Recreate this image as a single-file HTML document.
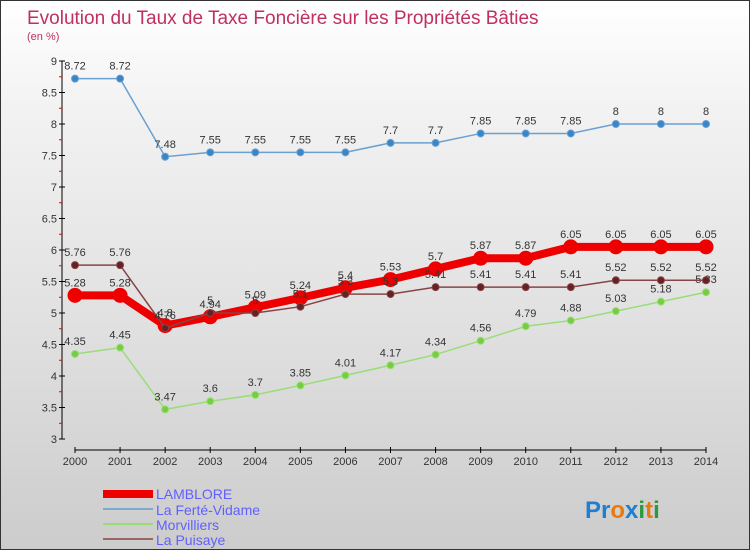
<!DOCTYPE html>
<html><head><meta charset="utf-8"><style>
body{margin:0}
#c{position:relative;width:748px;height:548px;border:1px solid #333;background:linear-gradient(#ffffff,#f2f2f2 20%,#e0e0e0 60%,#cccccc);overflow:hidden;font-family:"Liberation Sans",sans-serif}
</style></head><body>
<div id="c">
<svg id="s" width="748" height="548">
<text x="26" y="23" font-size="19" fill="#c0305f">Evolution du Taux de Taxe Foncière sur les Propriétés Bâties</text>
<text x="26" y="39" font-size="11" fill="#c0305f">(en %)</text>
<g id="axes"></g><g id="series"></g>
<g>
<rect x="102" y="489" width="50" height="8" fill="#e00"/>
<text x="155" y="498" font-size="14" fill="#6060ff">LAMBLORE</text>
<rect x="102" y="507" width="50" height="2" fill="#7aaad0"/>
<text x="155" y="514" font-size="14" fill="#6060ff">La Ferté-Vidame</text>
<rect x="102" y="522" width="50" height="2" fill="#99dd77"/>
<text x="155" y="529" font-size="14" fill="#6060ff">Morvilliers</text>
<rect x="102" y="537" width="50" height="2" fill="#996666"/>
<text x="155" y="544" font-size="14" fill="#6060ff">La Puisaye</text>
</g>
<text x="584" y="517" font-size="24" font-weight="bold"><tspan fill="#1e7fd0">Pr</tspan><tspan fill="#e87a10">o</tspan><tspan fill="#1e7fd0">x</tspan><tspan fill="#2a9a40">i</tspan><tspan fill="#e87a10">t</tspan><tspan fill="#2a9a40">i</tspan></text>
</svg></div>
<script>
const years=[2000,2001,2002,2003,2004,2005,2006,2007,2008,2009,2010,2011,2012,2013,2014];
const lamblore=[5.28,5.28,4.8,4.94,5.09,5.24,5.4,5.53,5.7,5.87,5.87,6.05,6.05,6.05,6.05];
const ferte=[8.72,8.72,7.48,7.55,7.55,7.55,7.55,7.7,7.7,7.85,7.85,7.85,8,8,8];
const morvilliers=[4.35,4.45,3.47,3.6,3.7,3.85,4.01,4.17,4.34,4.56,4.79,4.88,5.03,5.18,5.33];
const puisaye=[5.76,5.76,4.76,5,5,5.1,5.3,5.3,5.41,5.41,5.41,5.41,5.52,5.52,5.52];
const yTicks=[3,3.5,4,4.5,5,5.5,6,6.5,7,7.5,8,8.5,9];
const NS="http://www.w3.org/2000/svg";
const x=i=>74+i*(705-74)/(years.length-1);
const y=v=>60+(9-v)*63;
function mk(t,a,p){const e=document.createElementNS(NS,t);for(const k in a)e.setAttribute(k,a[k]);p.appendChild(e);return e;}
const ax=document.getElementById('axes'),sg=document.getElementById('series');
let e=mk('line',{x1:61,y1:y(9),x2:61,y2:y(3),stroke:'#000'},ax);


e=mk('line',{x1:x(0),y1:449,x2:x(14),y2:449,stroke:'#000'},ax);


yTicks.forEach(v=>{
 mk('line',{x1:58,y1:y(v),x2:64,y2:y(v),stroke:'#000'},ax);
 if(v<9)mk('line',{x1:58,y1:y(v+0.25),x2:61,y2:y(v+0.25),stroke:'#e00'},ax);
 const t=mk('text',{x:56,y:y(v)+4,'font-size':11,fill:'#333','text-anchor':'end'},ax);t.textContent=v;
 
 
});
years.forEach((yr,i)=>{
 mk('line',{x1:x(i),y1:446,x2:x(i),y2:452,stroke:'#000'},ax);
 const t=mk('text',{x:x(i),y:464,'font-size':11,fill:'#333','text-anchor':'middle'},ax);t.textContent=yr;
 
 
});
function series(d,col,w,r,dot,name){
 const g=mk('g',{},sg);
 
 
 mk('polyline',{points:d.map((v,i)=>x(i)+','+y(v)).join(' '),fill:'none',stroke:col,'stroke-width':w},g);
 d.forEach((v,i)=>{
  const c=mk('circle',{cx:x(i),cy:y(v),r:r,fill:dot,stroke:col,'stroke-width':1},g);
  
  
  const t=mk('text',{x:x(i),y:y(v)-9,'font-size':11,fill:'#333','text-anchor':'middle'},g);t.textContent=v;
  
  
 });
}
series(ferte,'#6aa0d0',1.5,3.5,'#3a85c5','la-ferte-vidame');
series(morvilliers,'#99dd77',1.5,3.5,'#77cc44','morvilliers');
series(lamblore,'#ee0000',8,7,'#ee0000','lamblore');
series(puisaye,'#884444',1.5,3.5,'#662222','la-puisaye');
</script>
</body></html>
